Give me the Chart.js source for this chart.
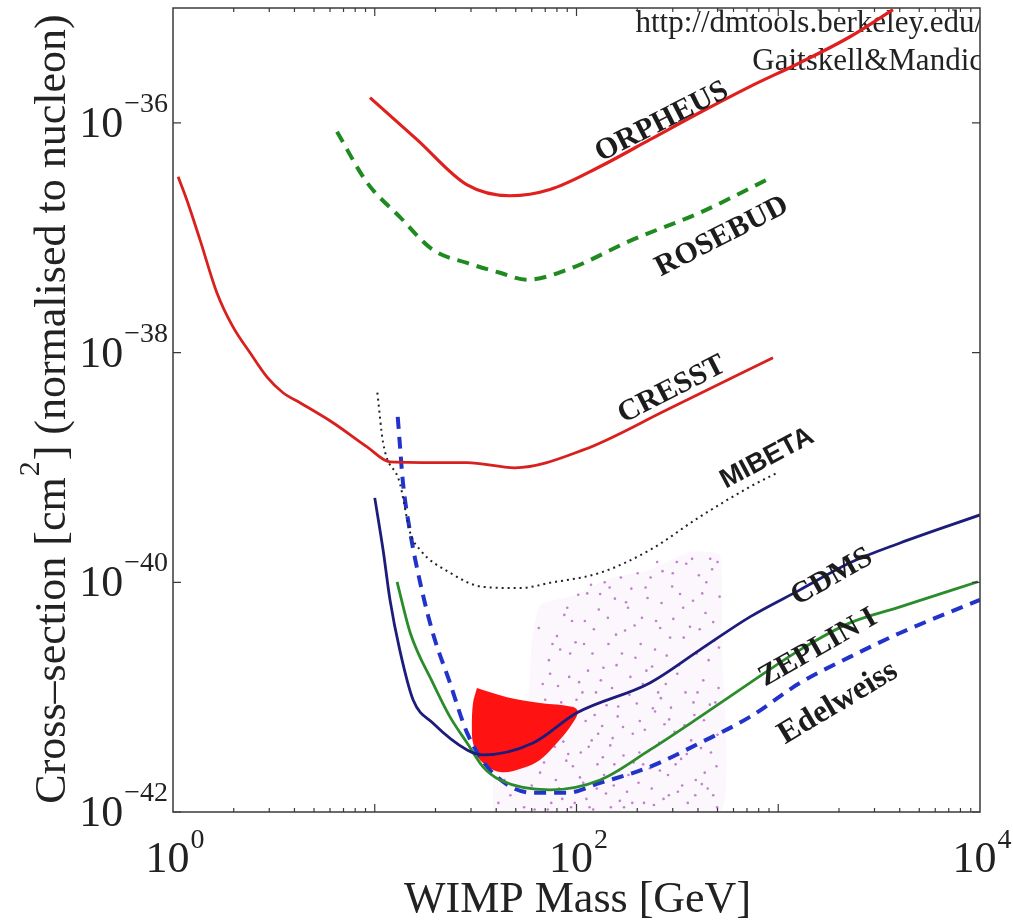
<!DOCTYPE html>
<html><head><meta charset="utf-8">
<script src="https://cdn.jsdelivr.net/npm/chart.js@4.4.1/dist/chart.umd.min.js"></script>
<style>html,body{margin:0;padding:0;background:#fff}canvas{display:block}</style>
</head><body>
<canvas id="c" width="1013" height="921"></canvas>
<script>
// ---- data (WIMP mass in GeV, cross-section in cm^2) ----
const orpheusMass  = [9.47,16.2,28.7,46.8,73.9,131,231,409,724,1282,2268,3705];
const orpheusSigma = [1.66e-36,7.14e-37,2.88e-37,2.32e-37,2.63e-37,4.17e-37,7.14e-37,1.23e-36,2.07e-36,3.34e-36,5.62e-36,9.68e-36];

const rosebudMass  = [6.5,9.16,13.3,19.4,28.7,41.8,56.9,89.8,190,409,880];
const rosebudSigma = [8.37e-37,3.02e-37,1.52e-37,7.85e-38,6.03e-38,4.95e-38,4.31e-38,5.26e-38,9.62e-38,1.65e-37,3.20e-37];

const cresstMass  = [1.06,1.17,1.36,1.65,1.98,2.41,2.92,3.51,4.26,6.21,9.16,11.9,28.7,49.5,108,281,942];
const cresstSigma = [3.40e-37,2.14e-37,9.62e-38,3.32e-38,1.68e-38,9.95e-39,6.15e-39,4.47e-39,3.66e-39,2.45e-39,1.51e-39,1.12e-39,1.10e-39,9.93e-40,1.42e-39,3.18e-39,9.02e-39];

const mibetaMass  = [10.3,11.0,13.3,15.0,16.8,23.6,34.4,52.5,73.9,131,231,409,724,986];
const mibetaSigma = [4.47e-39,1.64e-39,7.35e-40,2.69e-40,1.91e-40,1.21e-40,9.12e-41,8.91e-41,9.89e-41,1.21e-40,1.91e-40,3.72e-40,6.78e-40,8.97e-40];

const cdmsMass  = [10.0,11.0,11.9,13.3,15.5,19.4,28.7,34.4,60.9,100,231,409,724,1282,2268,4016,10000];
const cdmsSigma = [5.43e-40,1.91e-40,7.03e-41,2.58e-41,9.46e-42,5.96e-42,3.47e-42,3.14e-42,3.99e-42,7.28e-42,1.33e-41,2.58e-41,5.00e-41,8.59e-41,1.48e-40,2.20e-40,3.86e-40];

const zeplinMass  = [12.9,15.0,19.4,23.6,28.7,34.4,41.8,73.9,131,231,409,724,1282,2268,4016,9770];
const zeplinSigma = [1.01e-40,3.62e-41,1.33e-41,6.73e-42,3.99e-42,2.47e-42,1.90e-42,1.56e-42,1.90e-42,3.47e-42,6.73e-42,1.33e-41,2.58e-41,4.43e-41,6.11e-41,1.01e-40];

const edelweissMass  = [13.0,13.3,13.8,15.0,16.8,19.4,23.6,28.7,37.3,60.9,89.8,131,231,409,724,1282,2268,4016,10000];
const edelweissSigma = [2.76e-39,1.64e-39,7.35e-40,2.69e-40,9.89e-41,3.62e-41,1.33e-41,4.88e-42,2.32e-42,1.47e-42,1.47e-42,1.79e-42,2.47e-42,3.99e-42,6.73e-42,1.33e-41,2.24e-41,3.62e-41,7.03e-41];

// DAMA allowed region (closed outline)
const damaMass  = [32.1,45.2,65.9,96.1,101.7,92.9,80.0,65.9,54.3,41.8,33.2,30.7,30.3,30.7,32.1];
const damaSigma = [1.20e-41,1.00e-41,8.89e-42,8.22e-42,7.43e-42,5.50e-42,3.99e-42,2.84e-42,2.42e-42,2.23e-42,2.84e-42,3.99e-42,5.50e-42,8.89e-42,1.20e-41];

// envelope of the theory-model point cloud
const cloudEdgeMass  = [38.6,39.0,49.5,57.5,60.2,65.9,98.4,147,231,365,514,526,514,38.6];
const cloudEdgeSigma = [1e-42,2.32e-42,3.84e-42,9.46e-42,3.15e-41,6.35e-41,7.76e-41,1.09e-40,1.28e-40,1.84e-40,1.73e-40,2.58e-41,1e-42,1e-42];

// individual theory-model points (read approximately)
const cloudMass = [41,44,47,52,55,58,60,63,66,68,71,73,75,77,80,82,84,87,89,92,94,97,99,102,104,107,110,112,115,118,120,123,126,129,132,135,138,141,144,148,151,155,158,162,166,170,174,178,183,187,192,196,201,206,211,216,222,228,233,239,245,251,257,264,270,277,284,291,298,306,314,322,330,338,347,356,365,374,384,394,404,414,425,436,447,458,470,482,494,506,512,56,62,69,79,86,96,108,121,137,153,172,190,214,236,262,288,318,352,390,432,476,500,65,90,113,146,180,220,260,300,340,420,460,380,440,500,245,205,160,128,103,83,74,
  64,67,70,72,76,78,81,85,88,91,93,95,98,100,105,109,111,114,116,119,122,125,127,131,134,136,140,143,147,150,154,157,161,164,168,171,176,181,185,189,194,199,203,208,213,218,225,231,237,242,248,254,259,267,273,280,287,294,302,310,316,326,334,343,350,360,370,378,388,398,408,418,428,440,452,464,476,488,498,508];
const cloudSigma = [1.2e-42,1.9e-42,1.4e-42,2.6e-42,1.1e-42,4.5e-42,1.7e-42,8e-42,2.2e-42,1.3e-41,3.5e-42,2.1e-41,1.2e-42,6e-42,3.4e-41,1.6e-42,9e-42,5.2e-41,2.8e-42,1.5e-41,1.1e-42,6.5e-42,3e-41,7.8e-41,2e-42,1.1e-41,4.6e-41,1.3e-42,3.7e-42,9.5e-41,2.4e-41,7e-42,1.6e-42,5.8e-41,1.4e-41,3e-42,1e-40,8.5e-42,2.9e-41,1.1e-42,4.4e-42,7.2e-41,1.9e-41,2.3e-42,1.1e-40,5.5e-42,3.8e-41,1.5e-42,1.05e-41,8.8e-41,2.7e-42,2.2e-41,1.2e-40,6.2e-42,4.9e-41,1.2e-42,1.7e-41,3.4e-42,1.1e-40,8e-42,2.6e-41,1.5e-40,4e-42,6.6e-41,1.3e-42,1.3e-41,2.1e-42,3.3e-41,9.2e-41,5e-42,1.5e-40,1.9e-41,2.9e-42,6e-41,1.1e-41,1.2e-42,4.1e-41,1.6e-40,7e-42,2.4e-41,1.15e-40,3.6e-42,1.4e-41,5.4e-41,1.6e-42,8.6e-42,1.3e-40,3.1e-41,2.5e-42,1.2e-41,7.5e-41,3.1e-42,1.05e-42,2.7e-42,1.9e-42,4.1e-42,2.5e-42,1.8e-42,1.05e-42,2.1e-42,1.7e-42,1.1e-42,4.8e-42,2.6e-42,1.6e-42,9.8e-42,6.4e-42,1.5e-42,3.2e-42,1.9e-42,2.2e-42,1.4e-42,4.7e-42,4e-41,6e-41,8e-41,9e-41,6e-41,9e-41,4e-41,1.2e-40,3.3e-41,8e-41,1.6e-40,9e-42,2.8e-41,1.5e-40,7.5e-42,3.3e-42,6.8e-42,4.8e-42,1.35e-41,2.6e-41,1.6e-41,
  1.5e-42,5.3e-42,9.5e-42,1.05e-42,2.9e-41,3.7e-42,1.25e-41,1.3e-42,7.5e-42,3.2e-42,2.4e-41,4.6e-41,1.2e-42,9.5e-42,3.3e-42,2.9e-41,6.2e-42,1.7e-41,1.1e-42,4.2e-42,3.9e-41,1.1e-41,2.6e-42,7.9e-41,5.6e-42,1.8e-41,1.45e-42,4.9e-41,3.8e-42,1.2e-41,2.6e-42,3.5e-41,8.3e-42,1.25e-42,2.4e-41,3.1e-42,6.7e-41,2.1e-42,1.5e-41,1.2e-42,4.2e-41,8.8e-42,1.8e-42,2.9e-41,1.3e-41,5.2e-42,7.3e-41,2.4e-42,1.85e-41,1.15e-42,4.6e-41,1.1e-41,2.3e-42,1.25e-40,5.8e-42,2.3e-41,1.4e-42,8.1e-42,4.8e-41,2.6e-42,1.6e-41,7.9e-41,1.7e-42,5.7e-42,1.45e-40,2.2e-41,4.2e-42,6.9e-41,1.4e-42,1.1e-41,3.9e-41,1.75e-42,6.3e-42,1.0e-40,2.1e-41,3.3e-42,4.5e-41,9e-42,1.1e-42,2.7e-41];

// axis tick labels (powers of ten) and texts
const xTickExponents = [0, 2, 4];
const yTickExponents = [-36, -38, -40, -42];
const xTitle = 'WIMP Mass [GeV]';
const yTitleParts = ['Cross\u2013section [cm', '2', '] (normalised to nucleon)'];
const creditLines = ['http://dmtools.berkeley.edu/', 'Gaitskell&Mandic'];
const curveLabels = [
  {text:'ORPHEUS',   mass:265,  sigma:1.02e-36, angle:-27,  font:'bold 30px "Liberation Serif", serif'},
  {text:'ROSEBUD',   mass:526,  sigma:1.02e-37, angle:-27,  font:'bold 30px "Liberation Serif", serif'},
  {text:'CRESST',    mass:297,  sigma:4.74e-39, angle:-27,  font:'bold 30px "Liberation Serif", serif'},
  {text:'MIBETA',    mass:880,  sigma:1.2e-39,  angle:-28,  font:'bold 27px "Liberation Sans", sans-serif'},
  {text:'CDMS',      mass:1846, sigma:1.11e-40, angle:-29.5,font:'bold 30px "Liberation Serif", serif'},
  {text:'ZEPLIN I',  mass:1574, sigma:2.69e-41, angle:-29.6,font:'bold 30px "Liberation Serif", serif'},
  {text:'Edelweiss', mass:1977, sigma:8.89e-42, angle:-31,  font:'bold 32px "Liberation Serif", serif'}
];

const pts = (xs, ys) => xs.map((x, i) => ({x: x, y: ys[i]}));
const SERIF = '"Liberation Serif", "Times New Roman", serif';

const line = (label, xs, ys, color, width, dash, order) => ({
  label, data: pts(xs, ys), showLine: true, borderColor: color, borderWidth: width,
  borderDash: dash || [], pointRadius: 0, cubicInterpolationMode: 'monotone', fill: false, order: order || 1
});

const decor = {
  id: 'decor',
  beforeDatasetsDraw(chart) {
    const {ctx, chartArea: a} = chart;
    ctx.save();
    ctx.beginPath(); ctx.rect(a.left, a.top, a.right - a.left, a.bottom - a.top); ctx.clip();
    ctx.fillStyle = '#222';
    ctx.font = '31px ' + SERIF;
    ctx.textAlign = 'right'; ctx.textBaseline = 'alphabetic';
    ctx.fillText(creditLines[0], a.right + 3, a.top + 24);
    ctx.fillText(creditLines[1], a.right + 3, a.top + 62);
    ctx.restore();
  },
  afterDatasetsDraw(chart) {
    const {ctx} = chart;
    const xs = chart.scales.x, ys = chart.scales.y;
    ctx.save();
    ctx.fillStyle = '#1c1c1c';
    ctx.textAlign = 'center'; ctx.textBaseline = 'middle';
    curveLabels.forEach(l => {
      ctx.save();
      ctx.translate(xs.getPixelForValue(l.mass), ys.getPixelForValue(l.sigma));
      ctx.rotate(l.angle * Math.PI / 180);
      ctx.font = l.font;
      ctx.fillText(l.text, 0, 0);
      ctx.restore();
    });
    ctx.restore();
  },
  afterDraw(chart) {
    const {ctx, chartArea: a} = chart;
    const xs = chart.scales.x, ys = chart.scales.y;
    ctx.save();
    // frame
    ctx.strokeStyle = '#3a3a3a'; ctx.lineWidth = 1.5;
    ctx.strokeRect(a.left, a.top, a.right - a.left, a.bottom - a.top);
    // x ticks (inward, top and bottom)
    ctx.lineWidth = 1.2;
    ctx.beginPath();
    for (let e = 0; e < 4; e++) {
      for (let m = 1; m <= 9; m++) {
        if (m === 1 && e === 0) continue;
        const px = xs.getPixelForValue(m * Math.pow(10, e));
        const len = m === 1 ? 8 : 4;
        ctx.moveTo(px, a.bottom); ctx.lineTo(px, a.bottom - len);
        ctx.moveTo(px, a.top); ctx.lineTo(px, a.top + len);
      }
    }
    yTickExponents.forEach(e => {
      const py = ys.getPixelForValue(Math.pow(10, e));
      ctx.moveTo(a.left, py); ctx.lineTo(a.left + 8, py);
      ctx.moveTo(a.right, py); ctx.lineTo(a.right - 8, py);
    });
    ctx.stroke();

    ctx.fillStyle = '#222';
    ctx.textBaseline = 'alphabetic';
    // x tick labels
    xTickExponents.forEach(e => {
      const px = xs.getPixelForValue(Math.pow(10, e));
      ctx.font = '44px ' + SERIF;
      const w10 = ctx.measureText('10').width;
      ctx.font = '28px ' + SERIF;
      const sup = String(e);
      const ws = ctx.measureText(sup).width;
      const x0 = px + 2 - (w10 + 1 + ws) / 2;
      ctx.textAlign = 'left';
      ctx.font = '44px ' + SERIF;
      ctx.fillText('10', x0, a.bottom + 60);
      ctx.font = '28px ' + SERIF;
      ctx.fillText(sup, x0 + w10 + 1, a.bottom + 36);
    });
    // y tick labels
    yTickExponents.forEach(e => {
      const py = ys.getPixelForValue(Math.pow(10, e));
      const sup = '\u2212' + String(Math.abs(e));
      ctx.font = '28px ' + SERIF;
      const ws = ctx.measureText(sup).width;
      const supX = a.left - 5 - ws;
      ctx.textAlign = 'left';
      ctx.fillText(sup, supX, py - 11);
      ctx.font = '44px ' + SERIF;
      ctx.textAlign = 'right';
      ctx.fillText('10', supX - 1, py + 14);
    });
    // x title
    ctx.font = '44px ' + SERIF;
    ctx.textAlign = 'center';
    ctx.fillText(xTitle, (a.left + a.right) / 2 + 1, 912);
    // y title (rotated, with superscript)
    ctx.save();
    ctx.translate(65, 409);
    ctx.rotate(-Math.PI / 2);
    ctx.textAlign = 'left';
    ctx.font = '44px ' + SERIF;
    const w0 = ctx.measureText(yTitleParts[0]).width;
    const w2 = ctx.measureText(yTitleParts[2]).width;
    ctx.font = '30px ' + SERIF;
    const w1 = ctx.measureText(yTitleParts[1]).width;
    let x = -(w0 + w1 + w2 + 2) / 2;
    ctx.font = '44px ' + SERIF;
    ctx.fillText(yTitleParts[0], x, 0); x += w0 + 1;
    ctx.font = '30px ' + SERIF;
    ctx.fillText(yTitleParts[1], x, -26); x += w1 + 1;
    ctx.font = '44px ' + SERIF;
    ctx.fillText(yTitleParts[2], x, 0);
    ctx.restore();
    ctx.restore();
  }
};

new Chart(document.getElementById('c'), {
  type: 'scatter',
  data: {
    datasets: [
      {label: 'model envelope', data: pts(cloudEdgeMass, cloudEdgeSigma), showLine: true, borderWidth: 0,
       borderColor: 'rgba(0,0,0,0)', backgroundColor: 'rgba(200,140,210,0.07)', fill: 'shape', pointRadius: 0, tension: 0.15, order: 10},
      {label: 'models', data: pts(cloudMass, cloudSigma), showLine: false, pointRadius: 1.3,
       pointBackgroundColor: 'rgba(150,50,170,0.6)', pointBorderWidth: 0, order: 9},
      {label: 'DAMA', data: pts(damaMass, damaSigma), showLine: true, borderWidth: 0, borderColor: 'rgba(0,0,0,0)',
       backgroundColor: '#ff1212', fill: 'shape', pointRadius: 0, tension: 0.35, order: 8},
      line('ORPHEUS', orpheusMass, orpheusSigma, '#e0201e', 3.2),
      line('ROSEBUD', rosebudMass, rosebudSigma, '#1f8a1f', 4, [12, 8]),
      line('CRESST', cresstMass, cresstSigma, '#d8201e', 2.8),
      line('MIBETA', mibetaMass, mibetaSigma, '#222222', 2, [2, 4]),
      line('CDMS', cdmsMass, cdmsSigma, '#1c1c7a', 2.8),
      line('ZEPLIN I', zeplinMass, zeplinSigma, '#2a8c2a', 2.8),
      line('Edelweiss', edelweissMass, edelweissSigma, '#2233cc', 4, [12, 8])
    ]
  },
  options: {
    responsive: false,
    animation: false,
    layout: {padding: {left: 173, right: 33, top: 8, bottom: 109}},
    plugins: {legend: {display: false}, tooltip: {enabled: false}},
    scales: {
      x: {type: 'logarithmic', min: 1, max: 1e4, display: false},
      y: {type: 'logarithmic', min: 1e-42, max: 1e-35, display: false}
    }
  },
  plugins: [decor]
});
</script>
</body></html>
